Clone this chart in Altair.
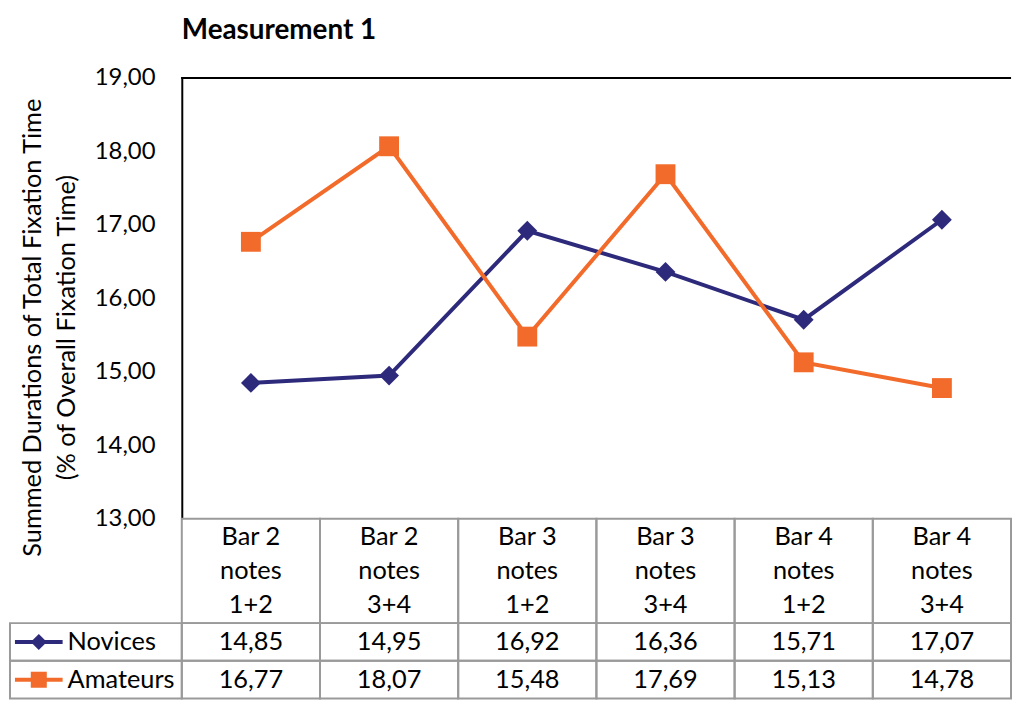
import altair as alt
import pandas as pd

categories = ["Bar 2 notes 1+2", "Bar 2 notes 3+4", "Bar 3 notes 1+2",
              "Bar 3 notes 3+4", "Bar 4 notes 1+2", "Bar 4 notes 3+4"]
header_labels = ["Bar 2\nnotes\n1+2", "Bar 2\nnotes\n3+4", "Bar 3\nnotes\n1+2",
                 "Bar 3\nnotes\n3+4", "Bar 4\nnotes\n1+2", "Bar 4\nnotes\n3+4"]
series_names = ["Novices", "Amateurs"]
novices = [14.85, 14.95, 16.92, 16.36, 15.71, 17.07]
amateurs = [16.77, 18.07, 15.48, 17.69, 15.13, 14.78]
y_ticks = [13, 14, 15, 16, 17, 18, 19]
series_colors = ["#2E2A7B", "#F26B2A"]
series_shapes = ["diamond", "square"]
y_title = ["Summed Durations of Total Fixation Time", "(% of Overall Fixation Time)"]

FONT = "Lato"
FS_TICK = 24
FS_TABLE = 25.5
FS_YTITLE = 25.5
BORDER = "#9a9a9a"

# layout (pixels inside the plot group)
PLOT_W = 835
LINE_H = 444          # height of the 13..19 value area
HEAD_H = 105          # table header row
ROW_H = 38            # table data rows
LEGEND_W = 173
TOTAL_H = LINE_H + HEAD_H + 2 * ROW_H

long_df = pd.DataFrame({
    "category": categories * 2,
    "series": [series_names[0]] * len(categories) + [series_names[1]] * len(categories),
    "value": novices + amateurs,
})
header_df = pd.DataFrame({"category": categories, "label": header_labels, "row": "header"})
legend_df = pd.DataFrame({"series": series_names, "col": "legend"})

comma_expr = "replace(format(datum.value, '.2f'), '.', ',')"


def xs():
    return alt.Scale(type="band", domain=categories, paddingInner=0, paddingOuter=0)


y_line = alt.Scale(domain=[13, 19], range=[LINE_H, 0], nice=False, zero=False)
y_header = alt.Scale(type="band", domain=["header"], range=[LINE_H, LINE_H + HEAD_H],
                     paddingInner=0, paddingOuter=0)
y_rows = alt.Scale(type="band", domain=series_names, range=[LINE_H + HEAD_H, TOTAL_H],
                   paddingInner=0, paddingOuter=0)
x_legend = alt.Scale(type="band", domain=["legend"], range=[-LEGEND_W, 0],
                     paddingInner=0, paddingOuter=0)
cscale = alt.Scale(domain=series_names, range=series_colors)
sscale = alt.Scale(domain=series_names, range=series_shapes)

yaxis = alt.Axis(
    values=y_ticks, labelExpr=comma_expr, labelFontSize=FS_TICK, labelPadding=27,
    ticks=False, domainColor="black", domainWidth=2, gridColor="#868686",
    gridWidth=1.3, labelColor="black", titleFontSize=FS_YTITLE, titleFontWeight="normal",
    titleColor="black", titleY=251, titlePadding=15, titleLineHeight=34,
)

base = alt.Chart(long_df)

top_rule = alt.Chart(long_df).mark_rule(color="black", strokeWidth=2).encode(
    y=alt.Y(datum=19, scale=y_line, axis=yaxis, title=y_title)
)
lines = base.mark_line(strokeWidth=4).encode(
    x=alt.X("category:N", scale=xs(), axis=None, bandPosition=0.5),
    y=alt.Y("value:Q", scale=y_line, axis=yaxis, title=y_title),
    color=alt.Color("series:N", scale=cscale, legend=None),
)
points = base.mark_point(filled=True, size=400, opacity=1).encode(
    x=alt.X("category:N", scale=xs(), axis=None, bandPosition=0.5),
    y=alt.Y("value:Q", scale=y_line, axis=yaxis, title=y_title),
    color=alt.Color("series:N", scale=cscale, legend=None),
    shape=alt.Shape("series:N", scale=sscale, legend=None),
)
plot = alt.layer(top_rule, lines, points)

header_cells = alt.Chart(header_df).mark_rect(filled=False, stroke=BORDER, strokeWidth=2).encode(
    x=alt.X("category:N", scale=xs(), axis=None),
    y=alt.Y("row:N", scale=y_header, axis=None),
)
header_text = alt.Chart(header_df).mark_text(
    fontSize=FS_TABLE, lineBreak="\n", lineHeight=34, baseline="middle", dy=-34, color="black"
).encode(
    x=alt.X("category:N", scale=xs(), axis=None, bandPosition=0.5),
    y=alt.Y("row:N", scale=y_header, axis=None, bandPosition=0.5),
    text="label:N",
)

value_cells = base.mark_rect(filled=False, stroke=BORDER, strokeWidth=2).encode(
    x=alt.X("category:N", scale=xs(), axis=None),
    y=alt.Y("series:N", scale=y_rows, axis=None),
)
value_text = base.transform_calculate(
    label="replace(format(datum.value, '.2f'), '.', ',')"
).mark_text(fontSize=FS_TABLE, baseline="middle", color="black").encode(
    x=alt.X("category:N", scale=xs(), axis=None, bandPosition=0.5),
    y=alt.Y("series:N", scale=y_rows, axis=None, bandPosition=0.5),
    text="label:N",
)

legend_cells = alt.Chart(legend_df).mark_rect(filled=False, stroke=BORDER, strokeWidth=2).encode(
    x=alt.X("col:N", scale=x_legend, axis=None),
    y=alt.Y("series:N", scale=y_rows, axis=None),
)
legend_lines = alt.Chart(legend_df).mark_rule(strokeWidth=4).encode(
    x=alt.value(-168), x2=alt.value(-120),
    y=alt.Y("series:N", scale=y_rows, axis=None, bandPosition=0.5),
    color=alt.Color("series:N", scale=cscale, legend=None),
)
legend_points = alt.Chart(legend_df).mark_point(filled=True, size=260, opacity=1).encode(
    x=alt.value(-144),
    y=alt.Y("series:N", scale=y_rows, axis=None, bandPosition=0.5),
    color=alt.Color("series:N", scale=cscale, legend=None),
    shape=alt.Shape("series:N", scale=sscale, legend=None),
)
legend_text = alt.Chart(legend_df).mark_text(
    fontSize=FS_TABLE, align="left", baseline="middle", color="black"
).encode(
    x=alt.value(-115),
    y=alt.Y("series:N", scale=y_rows, axis=None, bandPosition=0.5),
    text="series:N",
)

chart = alt.layer(
    plot, header_cells, header_text, value_cells, value_text,
    legend_cells, legend_lines, legend_points, legend_text,
).resolve_scale(x="independent", y="independent").properties(
    width=PLOT_W, height=TOTAL_H,
    title=alt.TitleParams("Measurement 1", anchor="start", frame="group", fontSize=28,
                          fontWeight="bold", font=FONT, color="black", offset=21),
    padding={"left": 1, "top": 7, "right": 0, "bottom": 0},
).configure_view(stroke=None).configure_text(font=FONT).configure_axis(
    labelFont=FONT, titleFont=FONT
).configure_title(font=FONT)

chart.save("out.html", embed_options={"renderer": "svg", "actions": False})
